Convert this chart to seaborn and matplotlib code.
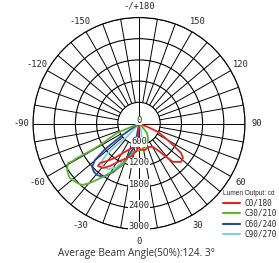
import numpy as np
import pandas as pd
import matplotlib
matplotlib.use("Agg")
import matplotlib.pyplot as plt
from matplotlib.font_manager import FontProperties
import seaborn as sns

sns.set_style("white")
plt.rcParams["font.family"] = ["DejaVu Sans"]

# ---- data ----
series_names = ["C0/180", "C30/210", "C60/240", "C90/270"]
series_colors = ["#e8231f", "#5cb531", "#1f4e9e", "#7fd0de"]

c0_deg = [75, 68, 66, 60, 56.5, 55, 52, 47.5, 41.5, 39, 36.5, 31, 21, 13, 5, -2,
          -10.5, -16, -28.5, -35, -40.5, -44.6, -44, -39, -34.3, -27, -12, -4.3, -2, 0]
c0_cd = [0, 300, 590, 945, 1255, 1450, 1580, 1610, 1450, 1220, 1000, 775, 710, 770, 740, 700,
         620, 720, 950, 1190, 1395, 1570, 1670, 1620, 1455, 1190, 940, 750, 300, 0]

c30_deg = [-70, -66.6, -61.1, -60.6, -60.9, -60.5, -60.9, -57.1, -54, -51.7, -47, -42.8,
           -39.5, -34, -23.6, -11.5, -5, 0, 6.5, 14.3, 24, 31.8, 40, 44, 46]
c30_cd = [0, 680, 1260, 1530, 2010, 2200, 2300, 2425, 2470, 2490, 2440, 2375,
          2180, 1825, 1345, 850, 790, 770, 755, 686, 590, 482, 350, 150, 0]

c60_deg = [-57, -55, -53, -50.3, -47.2, -43, -39.2, -34, -28, -21.6, -13, -10, -6]
c60_cd = [0, 560, 1200, 1620, 1810, 1870, 1880, 1825, 1560, 1230, 740, 330, 0]

c90_deg = [-45, -42, -46.5, -46, -44, -40, -34, -27, -19, -6, 3, 12, 18, 22]
c90_cd = [0, 510, 1010, 1350, 1530, 1590, 1565, 1390, 1035, 560, 550, 390, 150, 0]

ring_values = [600, 1200, 1800, 2400, 3000]
radial_labels = ["0", "600", "1200", "1800", "2400", "3000"]
radial_label_values = [0, 600, 1200, 1800, 2400, 3000]
angle_ticks = [0, 30, 60, 90, 120, 150, 180, 210, 240, 270, 300, 330]
angle_labels = ["0", "30", "60", "90", "120", "150", "-/+180", "-150", "-120", "-90", "-60", "-30"]
title_text = "Average Beam Angle(50%):124. 3°"
legend_title = "Lumen Output: cd"

series_deg = [c0_deg, c30_deg, c60_deg, c90_deg]
series_cd = [c0_cd, c30_cd, c60_cd, c90_cd]

mono = "DejaVu Sans Mono"

fig = plt.figure(figsize=(2.79, 2.63), dpi=100)
ax = fig.add_axes([0.1183, 0.1274, 0.7599, 0.806], projection="polar")
ax.set_theta_zero_location("S")
ax.set_theta_direction(1)
ax.set_ylim(0, 3000)

ax.set_yticks(ring_values)
ax.set_yticklabels([])
ax.yaxis.grid(True, color="black", lw=0.8)
ax.xaxis.grid(False)
ax.set_xticks(np.deg2rad(angle_ticks))
ax.set_xticklabels(angle_labels, fontfamily=mono, fontsize=6.3)
ax.tick_params(axis="x", pad=1.5, length=0)
ax.spines["polar"].set_linewidth(0.8)
ax.spines["polar"].set_color("black")

# spokes
for a in range(0, 360, 10):
    r0 = 0 if a % 90 == 0 else 600
    ax.plot([np.deg2rad(a)] * 2, [r0, 3000], color="black", lw=0.7, zorder=1)

for i, (name, col, d, v) in enumerate(zip(series_names, series_colors, series_deg, series_cd)):
    df = pd.DataFrame({"theta": np.deg2rad(d), "cd": v})
    sns.lineplot(data=df, x="theta", y="cd", sort=False, estimator=None,
                 color=col, lw=1.3, ax=ax, label=name, zorder=10 - i)
h, l = ax.get_legend_handles_labels()
if ax.get_legend() is not None:
    ax.get_legend().remove()
ax.set_xlabel("")
ax.set_ylabel("")

for lab, val in zip(radial_labels, radial_label_values):
    ax.annotate(lab, xy=(0, val), xytext=(0, 2.2), textcoords="offset points",
                ha="center", va="center", fontsize=6.3, fontfamily=mono, zorder=20,
                bbox=dict(boxstyle="square,pad=0.05", fc="white", ec="none"))

leg = fig.legend(h, l, loc="upper left", bbox_to_anchor=(0.800, 0.277), frameon=False,
                 borderpad=0, borderaxespad=0, handlelength=2.1, handletextpad=0.7,
                 labelspacing=0.18, prop=FontProperties(family=mono, size=5.6),
                 title=legend_title,
                 title_fontproperties=FontProperties(family="Liberation Sans", size=4.7),
                 alignment="left")
for line in leg.get_lines():
    line.set_linewidth(1.5)

fig.text(0.491, 0.038, title_text, ha="center", va="center", fontsize=7.2,
         fontfamily="Open Sans", color="#333333")

fig.savefig("out.png", dpi=100)
